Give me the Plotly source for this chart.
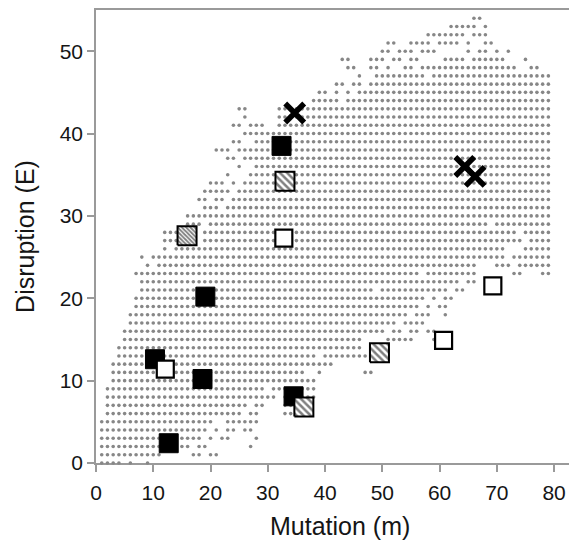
import plotly.graph_objects as go

# ---------------- data ----------------
# feasible (m, E) grid points, one entry per row of Disruption E
ROW_E = list(range(0, 55))
ROW_M = [
    "1-4,6,9",                       # E0
    "1-11,17-18,20-21",              # E1
    "1-16,18-19,27",                 # E2
    "1-18,20,22-23,28",              # E3
    "1-19,21,23-24,26-27",           # E4
    "1-20,23-28",                    # E5
    "2-25,27-28,33-34",              # E6
    "2-26,28-29,33-37",              # E7
    "2-31,33-38",                    # E8
    "2-29,31-38",                    # E9
    "3-38",                          # E10
    "3-36,39,47-48",                 # E11
    "3-41",                          # E12
    "4-38,40-47",                    # E13
    "4-46",                          # E14
    "5-46,51-55,59",                 # E15
    "5-50,52-53,55-56,58-59",        # E16
    "6-52,54-57",                    # E17
    "6-54,56-58,61",                 # E18
    "7-56,58,60-61",                 # E19
    "7-57,59,61-62",                 # E20
    "8-48,50-61,63-64",              # E21
    "8-63,65-66",                    # E22
    "7-56,58-66,73-74,78-79",        # E23
    "9,11-66,70-72,74-79",           # E24
    "8,10-71,73-79",                 # E25
    "12,14-71,75-79",                # E26
    "12-14,19-74,76-79",             # E27
    "12-14,19-73,75-79",             # E28
    "16-18,20-68,70-79",             # E29
    "16-79",                         # E30
    "19-21,23-79",                   # E31
    "18-19,21-22,24-79",             # E32
    "19-23,25-79",                   # E33
    "20-22,24,26-79",                # E34
    "23,27-79",                      # E35
    "25,28-79",                      # E36
    "23-24,26-79",                   # E37
    "21-23,25-79",                   # E38
    "24-25,28-79",                   # E39
    "26-79",                         # E40
    "24-25,27-29,32-79",             # E41
    "26,32-79",                      # E42
    "25-26,32-79",                   # E43
    "38-42,44-79",                   # E44
    "39-40,42,44,46-79",             # E45
    "42-43,45-46,48-79",             # E46
    "46,49-57,59-79",                # E47
    "44-45,48-49,51,54-55,57-73,76-77",  # E48
    "43-44,48-50,52-53,55-56,61-64,66-71,75",  # E49
    "50-51,53-55,57-59,65,67-68,70,72",  # E50
    "51-52,55-58,60-63,65,68-69",    # E51
    "58-64,66-68",                   # E52
    "62-66,68",                      # E53
    "66-67",                         # E54
]

BLACK_M = [32.4, 19.1, 10.3, 18.6, 12.7, 34.5]
BLACK_E = [38.5, 20.2, 12.6, 10.2, 2.4, 8.1]

WHITE_M = [32.8, 12.1, 60.7, 69.3]
WHITE_E = [27.3, 11.4, 14.9, 21.5]

HATCH_M = [33.0, 36.3, 49.5]
HATCH_E = [34.2, 6.8, 13.4]

DENSE_M = [15.9]
DENSE_E = [27.6]

CROSS_M = [34.7, 64.4, 66.2]
CROSS_E = [42.5, 36.0, 34.8]

X_TICKS = [0, 10, 20, 30, 40, 50, 60, 70, 80]
Y_TICKS = [0, 10, 20, 30, 40, 50]

X_TITLE = "Mutation (m)"
Y_TITLE = "Disruption (E)"

# ---------------- layout constants ----------------
W, H = 569, 548
ML, MR, MT, MB = 96, 0, 10, 85
X_RANGE = [0, 82.6]
Y_RANGE = [0, 55]
FONT = "Liberation Sans, Arial, sans-serif"
AXIS_COL = "#9a9a9a"
TEXT_COL = "#151515"
SQ_PX = 19  # side of hatched squares in pixels


def expand(spec):
    out = []
    for part in spec.split(","):
        if "-" in part:
            a, b = part.split("-")
            out.extend(range(int(a), int(b) + 1))
        else:
            out.append(int(part))
    return out


dot_m, dot_e = [], []
for e, spec in zip(ROW_E, ROW_M):
    ms = expand(spec)
    dot_m.extend(ms)
    dot_e.extend([e] * len(ms))

fig = go.Figure()

fig.add_trace(go.Scatter(
    x=dot_m, y=dot_e, mode="markers", cliponaxis=False,
    marker=dict(size=3.6, color="#878787", line=dict(width=0)),
    hoverinfo="skip", showlegend=False))

fig.add_trace(go.Scatter(
    x=BLACK_M, y=BLACK_E, mode="markers",
    marker=dict(symbol="square", size=19, color="black",
                line=dict(color="black", width=1)),
    showlegend=False))

fig.add_trace(go.Scatter(
    x=WHITE_M, y=WHITE_E, mode="markers",
    marker=dict(symbol="square", size=17, color="white",
                line=dict(color="black", width=2.2)),
    showlegend=False))

# hatched squares as filled polygons with a fill pattern
pw = W - ML - MR
ph = H - MT - MB
hx = SQ_PX / 2 * (X_RANGE[1] - X_RANGE[0]) / pw
hy = SQ_PX / 2 * (Y_RANGE[1] - Y_RANGE[0]) / ph


def square_path(cx, cy):
    return ([cx - hx, cx + hx, cx + hx, cx - hx, cx - hx],
            [cy - hy, cy - hy, cy + hy, cy + hy, cy - hy])


for ms, es, pat in [(HATCH_M, HATCH_E, dict(shape="\\", size=5, solidity=0.5)),
                    (DENSE_M, DENSE_E, dict(shape="\\", size=3, solidity=0.62))]:
    for cx, cy in zip(ms, es):
        px, py = square_path(cx, cy)
        fig.add_trace(go.Scatter(
            x=px, y=py, mode="lines", fill="toself", fillcolor="white",
            fillpattern=dict(fgcolor="black", bgcolor="white", **pat),
            line=dict(color="black", width=2),
            hoverinfo="skip", showlegend=False))

fig.add_trace(go.Scatter(
    x=CROSS_M, y=CROSS_E, mode="markers", cliponaxis=False,
    marker=dict(symbol="x-thin", size=19, color="black",
                line=dict(color="black", width=5.5)),
    showlegend=False))

axis_common = dict(
    showgrid=False, zeroline=False, showline=True, linecolor=AXIS_COL,
    linewidth=1.5, ticks="outside", ticklen=7, tickcolor=AXIS_COL,
    tickwidth=1.5, layer="below traces",
    tickfont=dict(family=FONT, size=21, color=TEXT_COL),
)

fig.update_xaxes(range=X_RANGE, tickvals=X_TICKS, mirror=True,
                 ticklabelstandoff=3, **axis_common)
fig.update_yaxes(range=Y_RANGE, tickvals=Y_TICKS,
                 title=dict(text=Y_TITLE, standoff=18,
                            font=dict(family=FONT, size=25, color=TEXT_COL)),
                 **axis_common)

fig.add_annotation(text=X_TITLE, xref="paper", yref="paper",
                   x=0.516, y=-0.138, xanchor="center", yanchor="middle",
                   showarrow=False,
                   font=dict(family=FONT, size=25, color=TEXT_COL))

fig.update_layout(width=W, height=H,
                  margin=dict(l=ML, r=MR, t=MT, b=MB),
                  plot_bgcolor="white", paper_bgcolor="white",
                  showlegend=False)

fig.write_html("out.html")
